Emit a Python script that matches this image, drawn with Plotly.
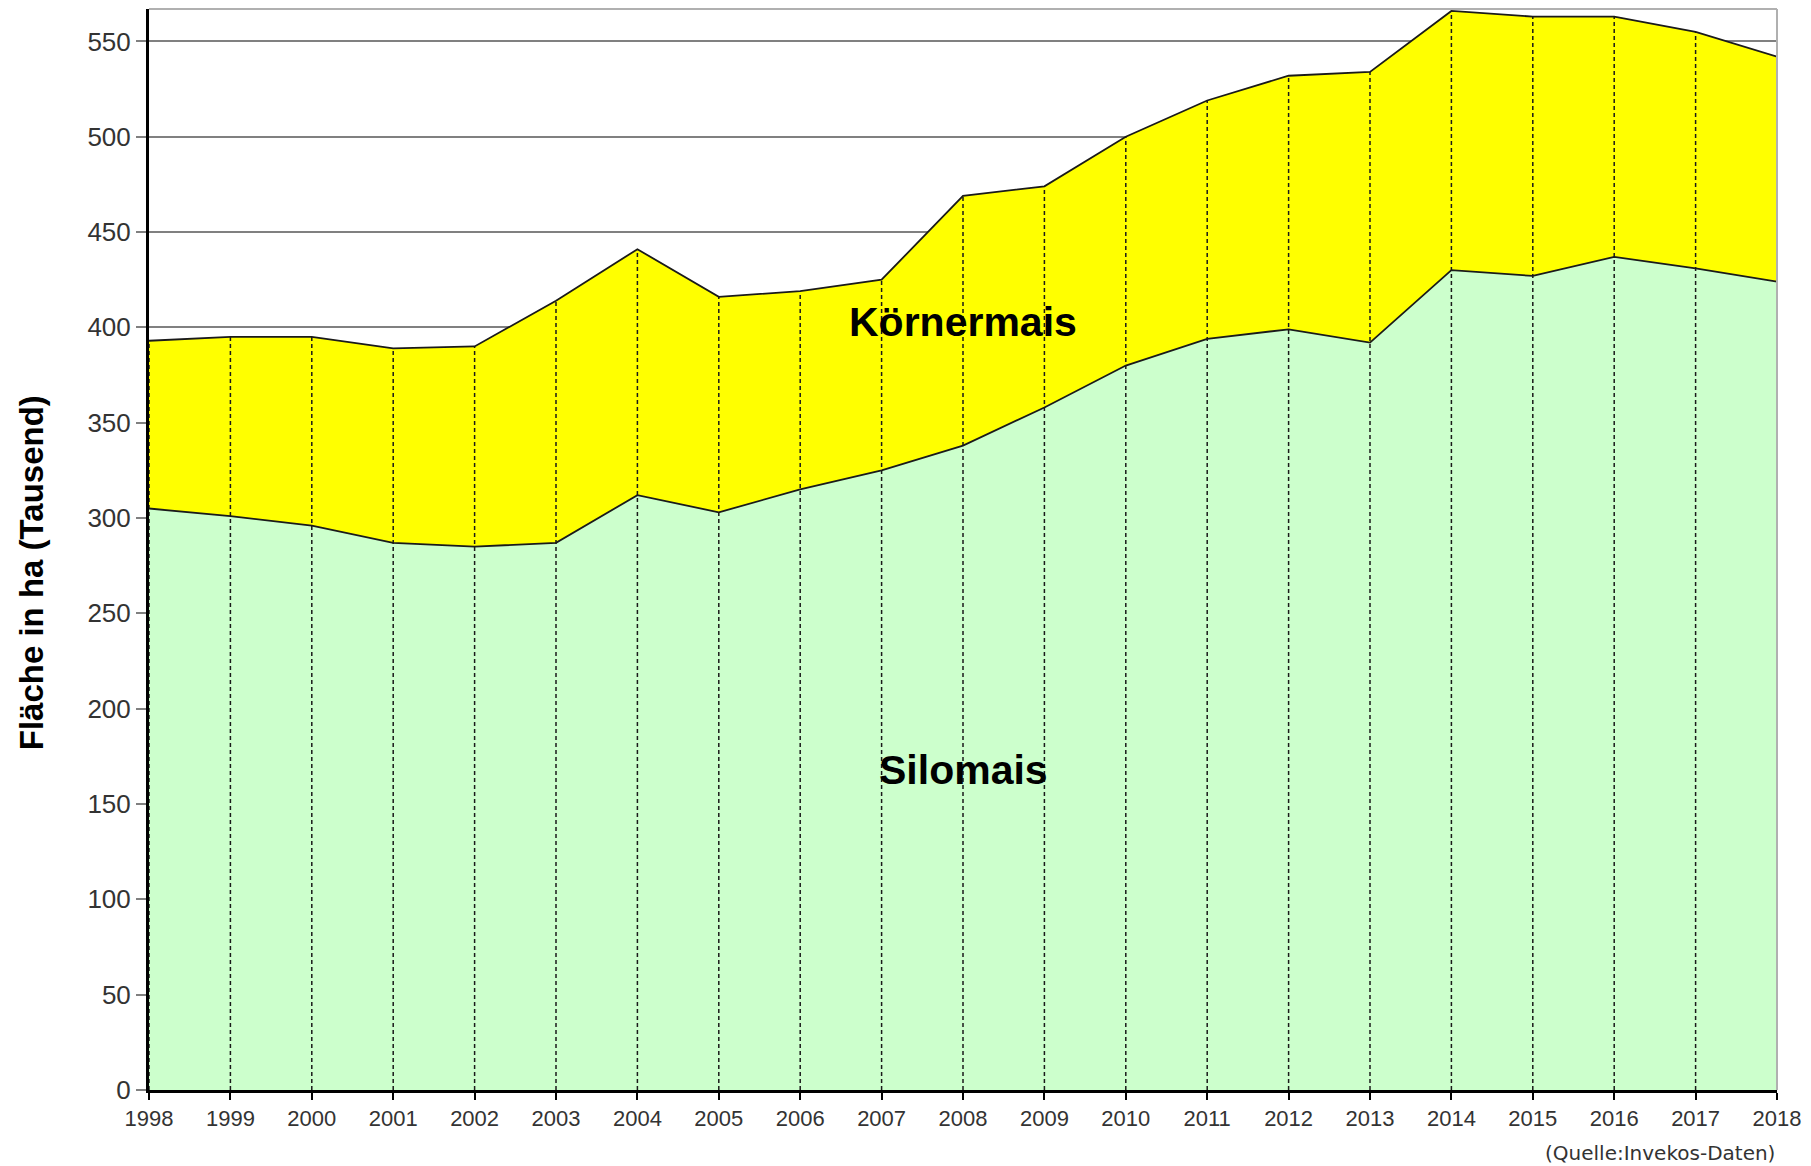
import plotly.graph_objects as go

# Maisfläche (Tausend ha)
years = list(range(1998, 2019))
silomais = [305, 301, 296, 287, 285, 287, 312, 303, 315, 325, 338, 358, 380, 394, 399, 392, 430, 427, 437, 431, 424]
koernermais = [88, 94, 99, 102, 105, 127, 129, 113, 104, 100, 131, 116, 120, 125, 133, 142, 136, 136, 126, 124, 118]
y_ticks = list(range(0, 551, 50))

silo_col = '#CCFFCC'
koerner_col = '#FFFF00'
font = 'Liberation Sans, Arial, sans-serif'

total = [s + k for s, k in zip(silomais, koernermais)]

fig = go.Figure()
fig.add_trace(go.Scatter(x=years, y=silomais, stackgroup='mais', mode='lines',
                         line=dict(color='#1a1a1a', width=1.8),
                         fillcolor=silo_col, name='Silomais'))
fig.add_trace(go.Scatter(x=years, y=koernermais, stackgroup='mais', mode='lines',
                         line=dict(color='#1a1a1a', width=1.8),
                         fillcolor=koerner_col, name='Körnermais'))

# Lotlinien von der Oberkante bis zur Achse
drop_x, drop_y = [], []
for yr, t in zip(years, total):
    drop_x += [yr, yr, None]
    drop_y += [0, t, None]
fig.add_trace(go.Scatter(x=drop_x, y=drop_y, mode='lines', hoverinfo='skip',
                         line=dict(color='#1a1a1a', width=1.5, dash='4px,3px')))

fig.add_annotation(x=2008, y=403, text='<b>Körnermais</b>', showarrow=False,
                   font=dict(family=font, size=41, color='black'))
fig.add_annotation(x=2008, y=168, text='<b>Silomais</b>', showarrow=False,
                   font=dict(family=font, size=41, color='black'))
fig.add_annotation(xref='paper', yref='paper', x=0, y=0.478, xshift=-118,
                   xanchor='center', yanchor='middle',
                   text='<b>Fläche in ha (Tausend)</b>', textangle=-90, showarrow=False,
                   font=dict(family=font, size=33, color='black'))
fig.add_annotation(xref='paper', yref='paper', x=1, y=0, xanchor='right', yanchor='middle',
                   yshift=-63, text='(Quelle:Invekos-Daten)', showarrow=False,
                   font=dict(family='DejaVu Sans, sans-serif', size=20, color='#333333'))

# grauer Rahmen oben und rechts
fig.add_shape(type='line', xref='paper', yref='paper', x0=0, x1=1, y0=1, y1=1,
              line=dict(color='#b0b0b0', width=2))
fig.add_shape(type='line', xref='paper', yref='paper', x0=1, x1=1, y0=0, y1=1,
              line=dict(color='#b0b0b0', width=2))

fig.update_xaxes(range=[1998, 2018], tickvals=years, ticks='outside', ticklen=7,
                 tickcolor='black', tickwidth=2, showgrid=False, zeroline=False,
                 showline=True, linecolor='black', linewidth=3,
                 tickfont=dict(family=font, size=22, color='#333333'))
fig.update_yaxes(range=[0, 567], tickvals=y_ticks, ticks='outside', ticklen=10,
                 tickcolor='#808080', tickwidth=2, showgrid=True, gridcolor='#808080',
                 gridwidth=2, zeroline=False, showline=True, linecolor='black', linewidth=3,
                 tickfont=dict(family=font, size=26, color='#333333'))

# die Seite setzt 8px Rand, daher Größe und Ränder entsprechend verkleinert
fig.update_layout(width=1803, height=1158, showlegend=False,
                  margin=dict(l=141, r=34, t=1, b=76),
                  plot_bgcolor='white', paper_bgcolor='white')

fig.write_html("out.html")
